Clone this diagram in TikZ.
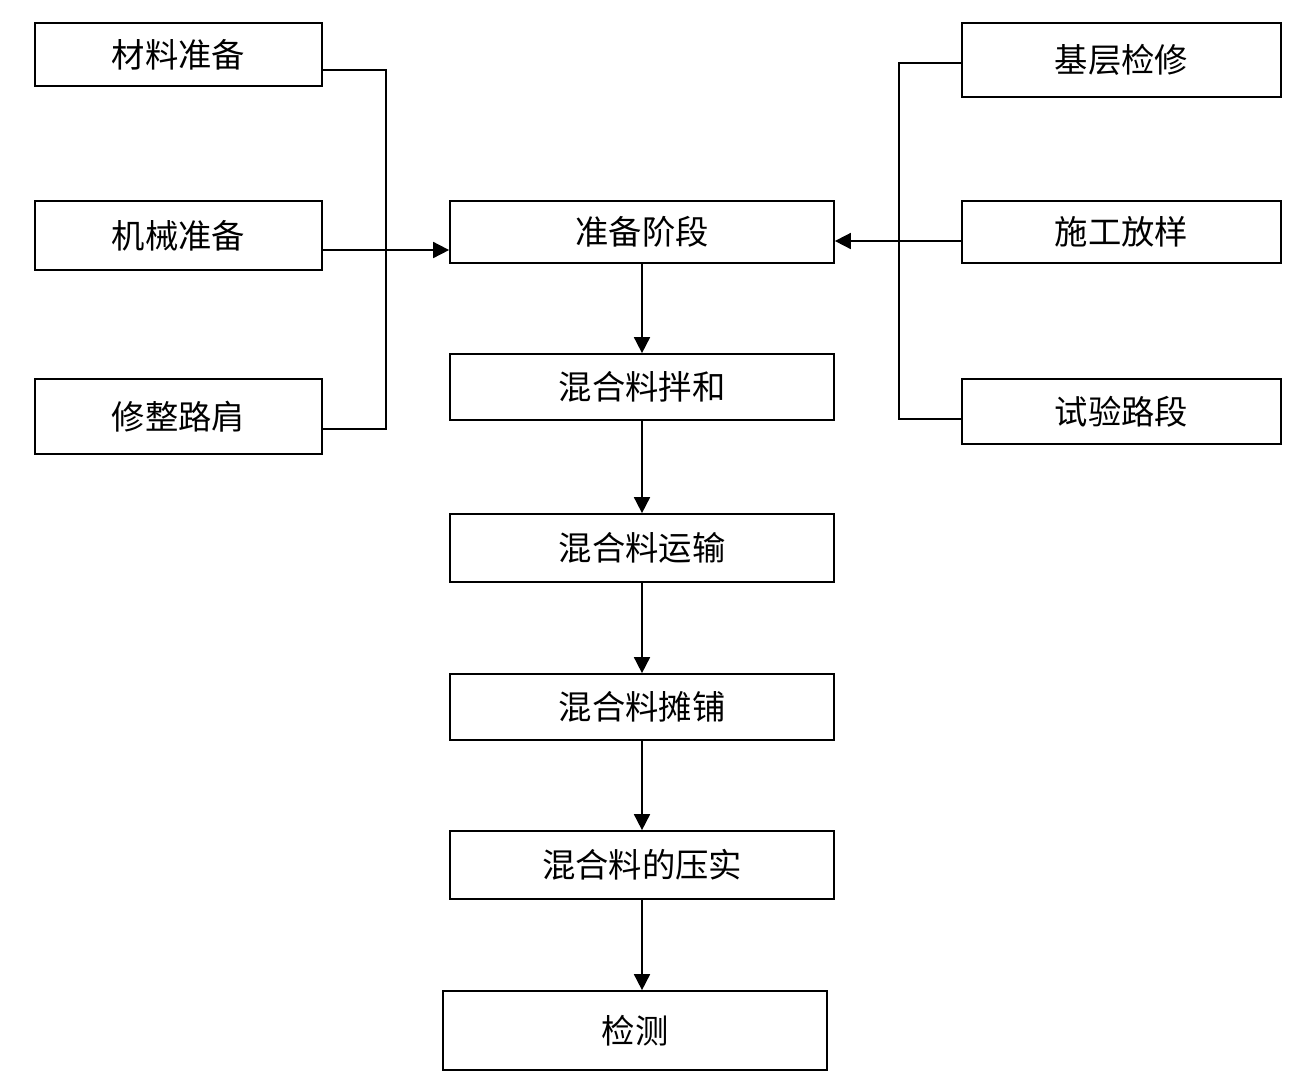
\documentclass[tikz,border=0pt]{standalone}
\usepackage{fontspec}
\setmainfont{Noto Sans CJK SC}
\usetikzlibrary{positioning}
\usetikzlibrary{arrows.meta}
\usetikzlibrary{calc}

\tikzset{
	stepbox/.style={draw, line width=1.3pt, rectangle, inner sep=0pt,
		font=\fontsize{25}{28}\selectfont},
	arr/.style={-{Triangle[length=12pt,width=12pt]}},
	link/.style={line width=1.3pt}
}

\begin{document}
\begin{tikzpicture}[x=0.75pt, y=-0.75pt]
			\useasboundingbox (0,0) rectangle (1298,1076);
			
			% Define the boxes on the left
			\node[stepbox, minimum width=287*0.75pt, minimum height=63*0.75pt] (cl) at (178.5,54.5) {材料准备};
			\node[stepbox, minimum width=287*0.75pt, minimum height=69*0.75pt] (jx) at (178.5,235.5) {机械准备};
			\node[stepbox, minimum width=287*0.75pt, minimum height=75*0.75pt] (lj) at (178.5,416.5) {修整路肩};
			
			% Define the boxes on the right
			\node[stepbox, minimum width=319*0.75pt, minimum height=74*0.75pt] (jc) at (1121.5,60) {基层检修};
			\node[stepbox, minimum width=319*0.75pt, minimum height=62*0.75pt] (fy) at (1121.5,232) {施工放样};
			\node[stepbox, minimum width=319*0.75pt, minimum height=65*0.75pt] (sy) at (1121.5,411.5) {试验路段};
			
			% Define the main chain
			\node[stepbox, minimum width=384*0.75pt, minimum height=62*0.75pt] (zb) at (642,232) {准备阶段};
			\node[stepbox, minimum width=384*0.75pt, minimum height=66*0.75pt] (bh) at (642,387) {混合料拌和};
			\node[stepbox, minimum width=384*0.75pt, minimum height=68*0.75pt] (ys) at (642,548) {混合料运输};
			\node[stepbox, minimum width=384*0.75pt, minimum height=66*0.75pt] (tp) at (642,707) {混合料摊铺};
			\node[stepbox, minimum width=384*0.75pt, minimum height=68*0.75pt] (ys2) at (642,865) {混合料的压实};
			\node[stepbox, minimum width=384*0.75pt, minimum height=79*0.75pt] (jcc) at (635,1030.5) {检测};
			
			% Define the joints
			\coordinate (lt) at (386,70);
			\coordinate (lm) at (386,250);
			\coordinate (lb) at (386,429);
			\coordinate (rt) at (899,63);
			\coordinate (rm) at (899,241);
			\coordinate (rb) at (899,419);
			
			% Draw the lines
			\draw[link] (cl.east |- lt) -- (lt) -- (lb) -- (lj.east |- lb);
			\draw[link, arr] (jx.east |- lm) -- (zb.west |- lm);
			\draw[link] (jc.west |- rt) -- (rt) -- (rb) -- (sy.west |- rb);
			\draw[link, arr] (fy.west |- rm) -- (zb.east |- rm);
			
			\foreach \a/\b in {zb/bh, bh/ys, ys/tp, tp/ys2}
			\draw[link, arr] (\a.south) -- (\b.north);
			\draw[link, arr] (ys2.south) -- (ys2.south |- jcc.north);
\end{tikzpicture}
\end{document}
